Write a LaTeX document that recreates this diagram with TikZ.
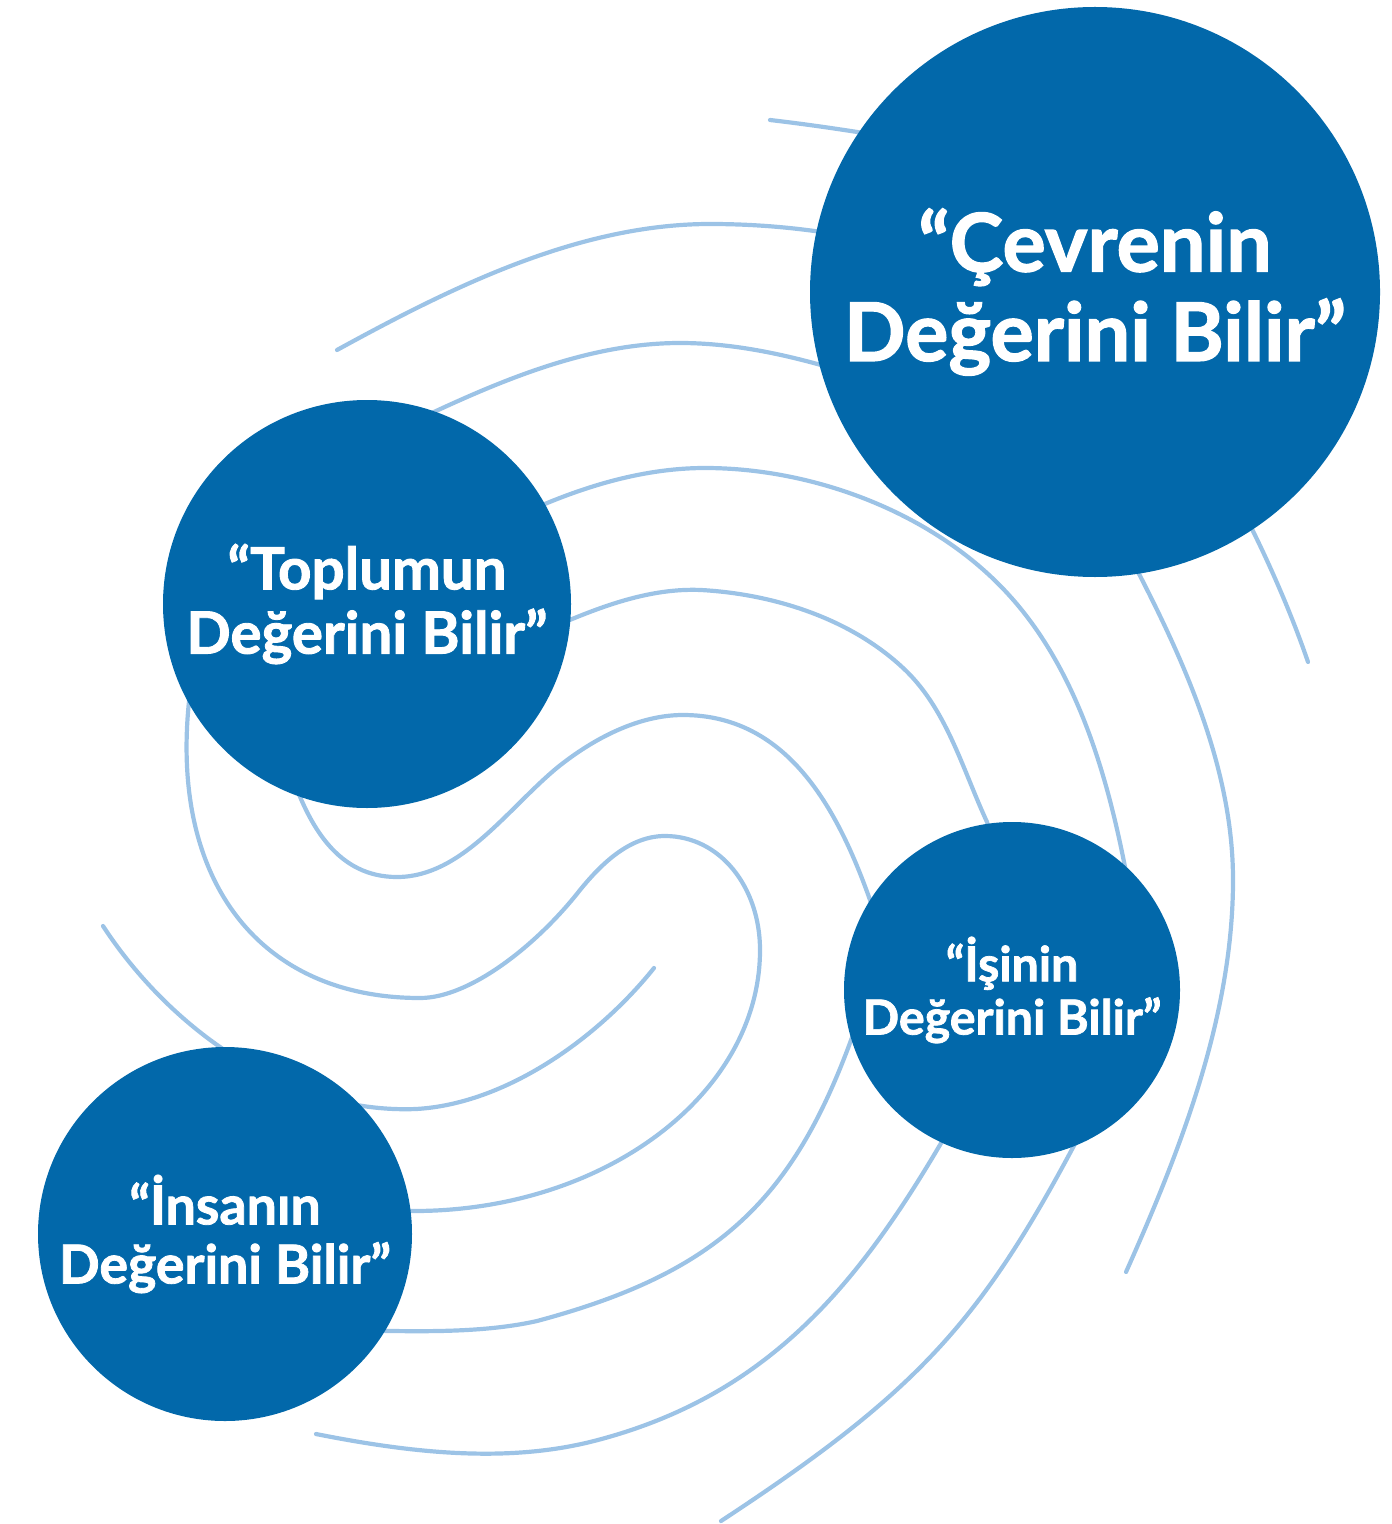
\documentclass[tikz,border=0pt]{standalone}
\usepackage{fontspec}
\setmainfont{Lato}[BoldFeatures={FakeBold=1.5}]
\usepackage{graphicx}
\definecolor{circblue}{RGB}{2,104,170}
\definecolor{swirl}{RGB}{156,195,230}
\newlength\dbw
\newcommand{\ctext}[3]{\resizebox{#1}{!}{\settowidth{\dbw}{#3}\begin{minipage}{\dbw}\centering\setlength{\baselineskip}{0.178\dbw}\setlength{\lineskiplimit}{-\maxdimen}#2\\#3\end{minipage}}}
\begin{document}
\begin{tikzpicture}[x=0.5pt,y=-0.5pt,
  swirlline/.style={draw=swirl, line width=2.1pt, line cap=round},
  bubble/.style={circle, fill=circblue, inner sep=0pt, text=white, font=\bfseries}]
\useasboundingbox (0,0) rectangle (1391,1524);
% swirl curves (they pass behind the circles)
\draw[swirlline] (770,120) .. controls (830,127) and (890,137) .. (940,146);
\draw[swirlline] (1215,460) .. controls (1250,520) and (1285,595) .. (1308,662);
\draw[swirlline] (337,350) .. controls (452,287) and (579,224) .. (710,224) .. controls (780,224) and (840,233) .. (900,247);
\draw[swirlline] (400,428) .. controls (488,386) and (582,343) .. (680,343) .. controls (755,343) and (830,366) .. (900,390);
\draw[swirlline] (1100,500) .. controls (1163,618) and (1233,746) .. (1233,880) .. controls (1233,1015) and (1181,1149) .. (1126,1272);
\draw[swirlline] (480,535) .. controls (549,498) and (627,468) .. (705,468) .. controls (814,468) and (934,513) .. (1008,594) .. controls (1075,667) and (1106,770) .. (1125,867) .. controls (1131,900) and (1135,930) .. (1135,960);
\draw[swirlline] (500,650) .. controls (565,623) and (631,587) .. (701,590) .. controls (773,594) and (849,618) .. (902,667) .. controls (946,707) and (962,768) .. (987,822) .. controls (995,850) and (1002,875) .. (1005,900);
\draw[swirlline] (290,770) .. controls (309,827) and (338,877) .. (397,877) .. controls (462,877) and (508,808) .. (558,767) .. controls (593,739) and (638,715) .. (683,715) .. controls (785,715) and (836,804) .. (870,900) .. controls (876,920) and (879,940) .. (880,960);
\draw[swirlline] (195,660) .. controls (157,866) and (250,998) .. (420,998) .. controls (470,998) and (537,945) .. (580,890) .. controls (602,863) and (630,836) .. (665,836) .. controls (720,836) and (760,887) .. (760,950) .. controls (760,1094) and (604,1211) .. (414,1211) -- (330,1212);
\draw[swirlline] (103,926) .. controls (169,1027) and (286,1114) .. (416,1109) .. controls (506,1104) and (598,1038) .. (654,968);
\draw[swirlline] (868,990) .. controls (805,1190) and (731,1269) .. (537,1321) .. controls (470,1336) and (390,1330) .. (320,1330);
\draw[swirlline] (980,1074) .. controls (879,1259) and (788,1391) .. (594,1441) .. controls (504,1464) and (407,1452) .. (316,1434);
\draw[swirlline] (1110,1076) .. controls (993,1307) and (939,1378) .. (721,1521);
% circles
\node[bubble, minimum size=285pt] (cevre) at (1095,292) {\ctext{251pt}{“Çevrenin}{Değerini Bilir”}};
\node[bubble, minimum size=204pt] (toplum) at (367,604) {\ctext{180.5pt}{“Toplumun}{Değerini Bilir”}};
\node[bubble, minimum size=168pt] (is) at (1012,990) {\ctext{149.5pt}{“İşinin}{Değerini Bilir”}};
\node[bubble, minimum size=187pt] (insan) at (225,1234) {\ctext{166pt}{“İnsanın}{Değerini Bilir”}};
\end{tikzpicture}
\end{document}
